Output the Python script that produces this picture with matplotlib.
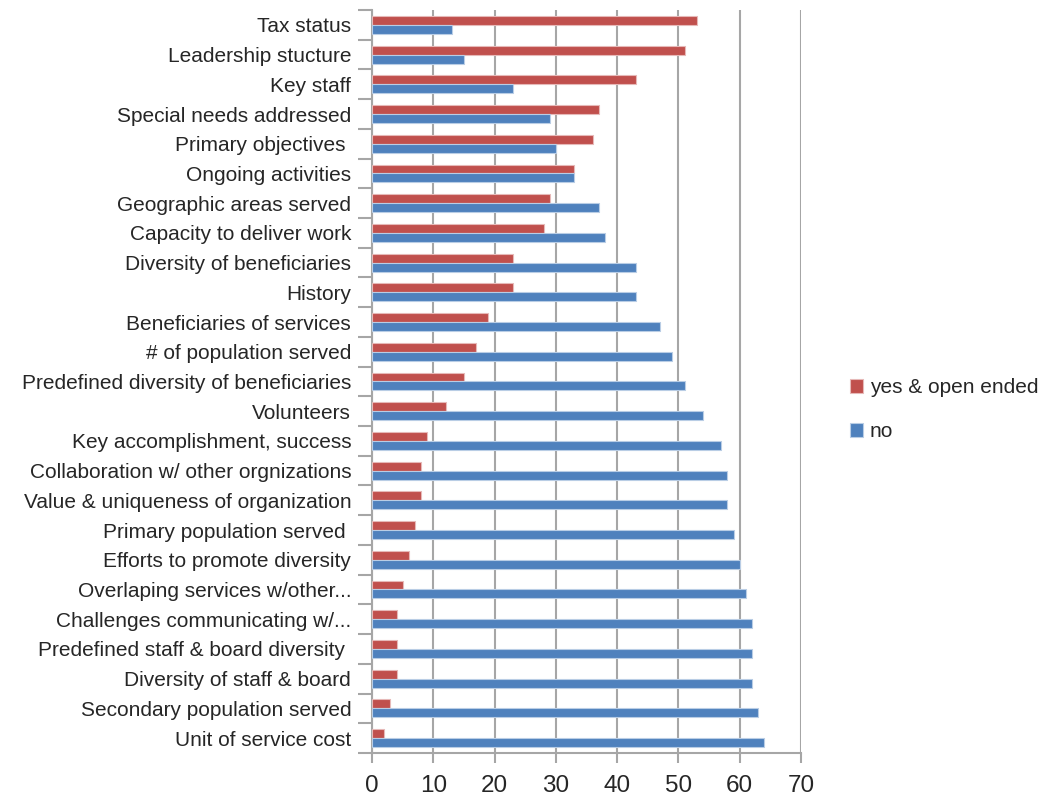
import numpy as np
import matplotlib.pyplot as plt

plt.rcParams['font.family'] = ['Liberation Sans', 'DejaVu Sans']

# categories top to bottom as in the chart
categories = [
    "Tax status", "Leadership stucture", "Key staff", "Special needs addressed",
    "Primary objectives ", "Ongoing activities", "Geographic areas served",
    "Capacity to deliver work", "Diversity of beneficiaries", "History",
    "Beneficiaries of services", "# of population served",
    "Predefined diversity of beneficiaries", "Volunteers",
    "Key accomplishment, success", "Collaboration w/ other orgnizations",
    "Value & uniqueness of organization", "Primary population served ",
    "Efforts to promote diversity", "Overlaping services w/other...",
    "Challenges communicating w/...", "Predefined staff & board diversity ",
    "Diversity of staff & board", "Secondary population served",
    "Unit of service cost",
]
yes_open = [53, 51, 43, 37, 36, 33, 29, 28, 23, 23, 19, 17, 15, 12, 9, 8, 8, 7, 6, 5, 4, 4, 4, 3, 2]
no_vals = [13, 15, 23, 29, 30, 33, 37, 38, 43, 43, 47, 49, 51, 54, 57, 58, 58, 59, 60, 61, 62, 62, 62, 63, 64]
x_ticks = [0, 10, 20, 30, 40, 50, 60, 70]

red = '#C0504D'
blue = '#4F81BD'
grid_col = '#A6A6A6'

fig = plt.figure(figsize=(10.45, 8.01), dpi=100)
ax = fig.add_axes([0.356, 0.06, 0.4105, 0.9275])

n = len(categories)
pos = np.arange(n)[::-1]
h = 0.3
ax.barh(pos + h / 2, yes_open, height=h, color=red, edgecolor='#E6B9B8',
        linewidth=0.8, label='yes & open ended', zorder=3)
ax.barh(pos - h / 2, no_vals, height=h, color=blue, edgecolor='#B9CDE5',
        linewidth=0.8, label='no', zorder=3)

ax.set_xlim(0, 70)
ax.set_ylim(-0.5, n - 0.5)
ax.set_xticks(x_ticks)
ax.set_xticklabels([str(v) for v in x_ticks], fontsize=17.5, color='#262626')
ax.tick_params(axis='x', length=7, width=1.5, color=grid_col, pad=9)

ax.set_yticks(pos)
ax.set_yticklabels(categories, fontsize=15, color='#262626')
ax.tick_params(axis='y', which='major', length=0, pad=15)
ax.set_yticks(np.arange(n + 1) - 0.5, minor=True)
ax.tick_params(axis='y', which='minor', length=10, width=1.5, color=grid_col)

ax.grid(axis='x', color=grid_col, linewidth=1.5, zorder=0)
for s in ['top', 'right']:
    ax.spines[s].set_visible(False)
for s in ['left', 'bottom']:
    ax.spines[s].set_color(grid_col)
    ax.spines[s].set_linewidth(1.5)

ax.legend(loc='center left', bbox_to_anchor=(1.07, 0.462), frameon=False,
          fontsize=15, handlelength=0.65, handleheight=0.65, handletextpad=0.3,
          labelspacing=1.2, labelcolor='#262626')

fig.savefig('out.png', dpi=100)
